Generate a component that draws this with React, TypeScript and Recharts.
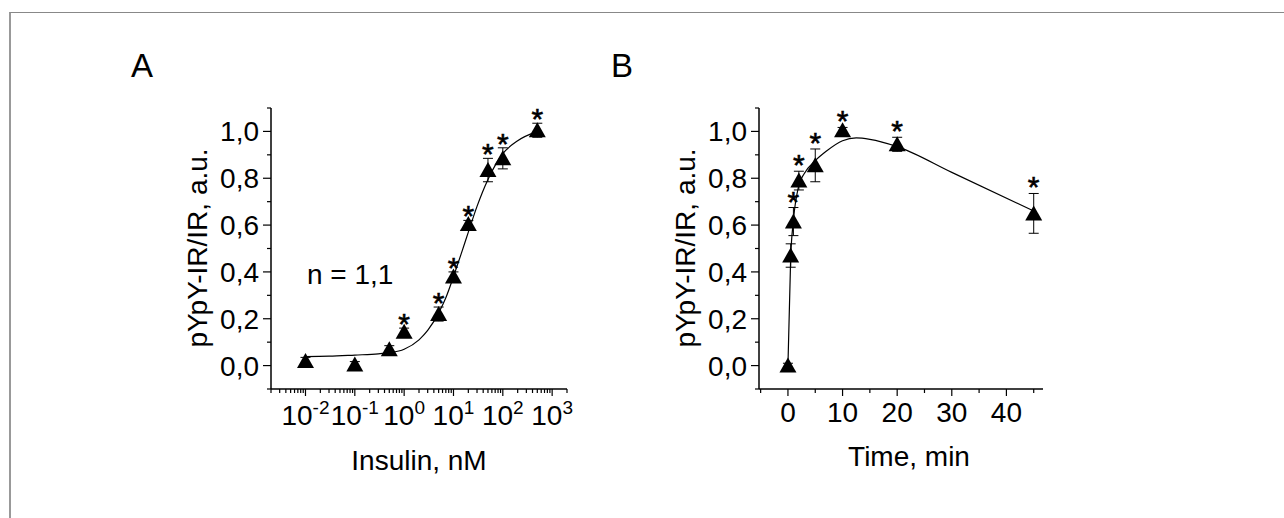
import React from 'react';
import { ComposedChart, Scatter, Line, XAxis, YAxis, ErrorBar } from 'recharts';

const FONT = '"Liberation Sans", Arial, sans-serif';

// panel A: dose response
const insulinDose = [0.01, 0.1, 0.5, 1, 5, 10, 20, 50, 100, 500];
const insulinResp = [0.02, 0.005, 0.07, 0.145, 0.22, 0.38, 0.605, 0.835, 0.885, 1.005];
const insulinErr = [0.015, 0.012, 0.015, 0.015, 0.03, 0.02, 0.015, 0.05, 0.045, 0.03];
const insulinStar = [false, false, false, true, true, true, true, true, true, true];
const insulinFitX = [0.01, 0.03, 0.1, 0.3, 0.5, 1, 2, 3, 5, 7, 10, 15, 20, 30, 50, 70, 100, 200, 500];
const insulinFitY = [0.038, 0.04, 0.045, 0.05, 0.055, 0.07, 0.11, 0.15, 0.225, 0.29, 0.38, 0.49, 0.57, 0.68, 0.795, 0.855, 0.905, 0.96, 1.0];

// panel B: time course
const timeMin = [0, 0.5, 1, 2, 5, 10, 20, 45];
const timeResp = [0.0, 0.47, 0.615, 0.79, 0.855, 1.005, 0.945, 0.65];
const timeErr = [0.01, 0.05, 0.06, 0.04, 0.07, 0.012, 0.03, 0.085];
const timeStar = [false, false, true, true, true, true, true, true];
const timeFitX = [0, 0.5, 1, 2, 3, 5, 7, 10, 12.5, 15, 20, 30, 45];
const timeFitY = [0, 0.46, 0.62, 0.77, 0.82, 0.875, 0.915, 0.96, 0.972, 0.966, 0.935, 0.825, 0.66];

const yTicks = [-0.1, 0, 0.1, 0.2, 0.3, 0.4, 0.5, 0.6, 0.7, 0.8, 0.9, 1.0, 1.1];
const timeTicks = [-5, 0, 5, 10, 15, 20, 25, 30, 35, 40, 45];
const logTicks: number[] = [];
for (let e = -3; e <= 3; e++) {
  for (let m = 1; m <= 9; m++) {
    const v = m * Math.pow(10, e);
    if (v >= 0.002 && v <= 2000) logTicks.push(v);
  }
}

const pts = (xs: number[], ys: number[], errs: number[]) => xs.map((x, i) => ({ x, y: ys[i], err: errs[i] }));
const starPts = (xs: number[], ys: number[], errs: number[], stars: boolean[]) =>
  xs.map((x, i) => ({ x, y: ys[i] + errs[i], s: stars[i] })).filter(d => d.s);
const line = (xs: number[], ys: number[]) => xs.map((x, i) => ({ x, y: ys[i] }));

const Triangle = (p: any) => (
  <polygon points={`${p.cx},${p.cy - 8} ${p.cx - 8.5},${p.cy + 7} ${p.cx + 8.5},${p.cy + 7}`} fill="#000" />
);

const starShape = (off: number) => (p: any) => (
  <text x={p.cx} y={p.cy - off + 17} textAnchor="middle" fontSize={30} fontFamily={FONT} fill="#000"
    stroke="#000" strokeWidth={0.6}>*</text>
);

const YTick = (p: any) => {
  const v = p.payload.value;
  const major = Math.round(v * 10) % 2 === 0;
  return (
    <g>
      <line x1={p.x} y1={p.y} x2={p.x - (major ? 8 : 4)} y2={p.y} stroke="#000" strokeWidth={1.2} />
      {major && (
        <text x={p.x - 12} y={p.y + 10} textAnchor="end" fontSize={28} fontFamily={FONT} fill="#000">
          {v.toFixed(1).replace('.', ',')}
        </text>
      )}
    </g>
  );
};

const LogTick = (p: any) => {
  const v = p.payload.value;
  const l = Math.log10(v);
  const e = Math.round(l);
  const major = Math.abs(l - e) < 1e-6;
  return (
    <g>
      <line x1={p.x} y1={p.y} x2={p.x} y2={p.y + (major ? 7 : 4)} stroke="#000" strokeWidth={1.2} />
      {major && (
        <text x={p.x} y={p.y + 36} textAnchor="middle" fontSize={28} fontFamily={FONT} fill="#000">
          10<tspan dy={-11} fontSize={19}>{String(e)}</tspan>
        </text>
      )}
    </g>
  );
};

const TimeTick = (p: any) => {
  const v = p.payload.value;
  const major = v % 10 === 0;
  return (
    <g>
      <line x1={p.x} y1={p.y} x2={p.x} y2={p.y + (major ? 7 : 4)} stroke="#000" strokeWidth={1.2} />
      {major && (
        <text x={p.x} y={p.y + 33} textAnchor="middle" fontSize={28} fontFamily={FONT} fill="#000">{v}</text>
      )}
    </g>
  );
};

export default function App() {
  return (
    <div style={{ position: 'absolute', left: 0, top: 0, width: 1284, height: 518, overflow: 'hidden', background: '#fff' }}>
      <div style={{ position: 'absolute', left: 9, top: 12, width: 1300, height: 600, borderLeft: '2px solid #999', borderTop: '1px solid #888' }} />

      <div style={{ position: 'absolute', left: 0, top: 0 }}>
        <ComposedChart width={640} height={518} margin={{ top: 108, right: 73, bottom: 89, left: 211 }}>
          <XAxis dataKey="x" type="number" scale="log" domain={[0.002, 2000]} ticks={logTicks} interval={0}
            tick={LogTick} tickLine={false} tickSize={0} tickMargin={0} height={40}
            axisLine={{ stroke: '#000', strokeWidth: 1.5 }} allowDataOverflow />
          <YAxis type="number" domain={[-0.1, 1.1]} ticks={yTicks} interval={0} tick={YTick} tickLine={false}
            tickSize={0} tickMargin={0} width={60} axisLine={{ stroke: '#000', strokeWidth: 1.5 }} allowDataOverflow />
          <Line data={line(insulinFitX, insulinFitY)} dataKey="y" type="monotone" stroke="#000" strokeWidth={1.2}
            dot={false} isAnimationActive={false} />
          <Scatter data={pts(insulinDose, insulinResp, insulinErr)} dataKey="y" shape={Triangle} isAnimationActive={false}>
            <ErrorBar dataKey="err" direction="y" width={5} stroke="#000" strokeWidth={1} isAnimationActive={false} />
          </Scatter>
          <Scatter data={starPts(insulinDose, insulinResp, insulinErr, insulinStar)} dataKey="y" shape={starShape(11)}
            isAnimationActive={false} />
        </ComposedChart>
      </div>

      <div style={{ position: 'absolute', left: 640, top: 0 }}>
        <ComposedChart width={644} height={518} margin={{ top: 108, right: 241, bottom: 89, left: 59 }}>
          <XAxis dataKey="x" type="number" domain={[-5.3, 46.7]} ticks={timeTicks} interval={0}
            tick={TimeTick} tickLine={false} tickSize={0} tickMargin={0} height={40}
            axisLine={{ stroke: '#000', strokeWidth: 1.5 }} allowDataOverflow />
          <YAxis type="number" domain={[-0.1, 1.1]} ticks={yTicks} interval={0} tick={YTick} tickLine={false}
            tickSize={0} tickMargin={0} width={60} axisLine={{ stroke: '#000', strokeWidth: 1.5 }} allowDataOverflow />
          <Line data={line(timeFitX, timeFitY)} dataKey="y" type="monotone" stroke="#000" strokeWidth={1.2}
            dot={false} isAnimationActive={false} />
          <Scatter data={pts(timeMin, timeResp, timeErr)} dataKey="y" shape={Triangle} isAnimationActive={false}>
            <ErrorBar dataKey="err" direction="y" width={5} stroke="#000" strokeWidth={1} isAnimationActive={false} />
          </Scatter>
          <Scatter data={starPts(timeMin, timeResp, timeErr, timeStar)} dataKey="y" shape={starShape(13)}
            isAnimationActive={false} />
        </ComposedChart>
      </div>

      <svg width={1284} height={518} style={{ position: 'absolute', left: 0, top: 0, pointerEvents: 'none' }}
        fontFamily={FONT} fill="#000">
        <text x={131} y={77} fontSize={33}>A</text>
        <text x={611} y={77} fontSize={33}>B</text>
        <text x={307} y={284} fontSize={28}>n = 1,1</text>
        <text transform="translate(207,248) rotate(-90)" textAnchor="middle" fontSize={28}>pYpY-IR/IR, a.u.</text>
        <text transform="translate(695,248) rotate(-90)" textAnchor="middle" fontSize={28}>pYpY-IR/IR, a.u.</text>
        <text x={419} y={470} textAnchor="middle" fontSize={28}>Insulin, nM</text>
        <text x={909} y={466} textAnchor="middle" fontSize={28}>Time, min</text>
      </svg>
    </div>
  );
}
